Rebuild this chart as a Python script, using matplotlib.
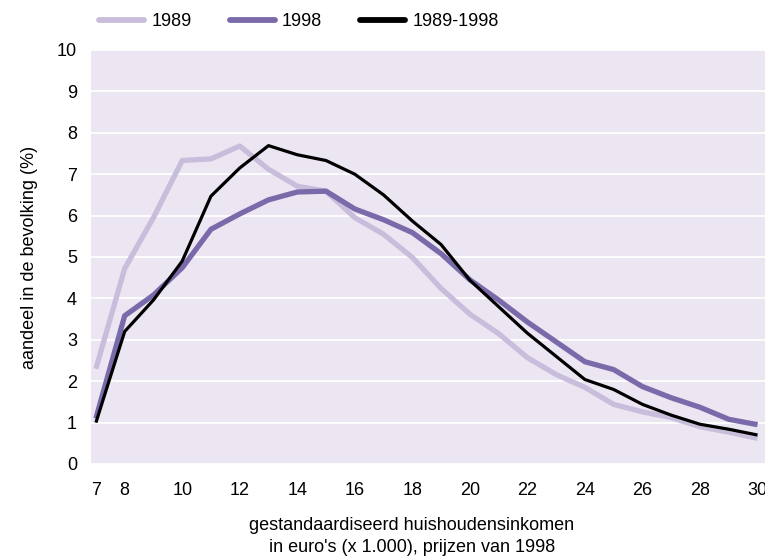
import matplotlib
matplotlib.use("Agg")
import matplotlib.pyplot as plt
from matplotlib import font_manager

inkomen = list(range(7, 31))
pct1989 = [2.3, 4.72, 5.95, 7.33, 7.37, 7.68, 7.12, 6.71, 6.59, 5.95, 5.55, 4.99, 4.24, 3.62, 3.15, 2.57, 2.16, 1.85, 1.44, 1.26, 1.12, 0.9, 0.77, 0.62]
pct1998 = [1.1, 3.58, 4.08, 4.74, 5.67, 6.04, 6.38, 6.57, 6.59, 6.16, 5.9, 5.59, 5.08, 4.45, 3.96, 3.43, 2.95, 2.47, 2.28, 1.87, 1.6, 1.37, 1.08, 0.95]
pct8998 = [1.0, 3.2, 3.96, 4.9, 6.47, 7.15, 7.69, 7.47, 7.33, 7.0, 6.5, 5.87, 5.3, 4.44, 3.8, 3.16, 2.6, 2.04, 1.8, 1.44, 1.18, 0.96, 0.84, 0.7]
xticks = [7, 8, 10, 12, 14, 16, 18, 20, 22, 24, 26, 28, 30]

names = [f.name for f in font_manager.fontManager.ttflist]
fam = "Liberation Sans Narrow" if "Liberation Sans Narrow" in names else "Liberation Sans"
plt.rcParams["font.family"] = fam
fs = 13

fig = plt.figure(figsize=(7.65, 5.58), dpi=100)
ax = fig.add_axes([91/765, 1-464/558, 1-91/765, (464-50)/558])
ax.set_facecolor("#ECE6F2")
for s in ax.spines.values():
    s.set_visible(False)

ax.plot(inkomen, pct1989, color="#C8BEDC", lw=3.8, label="1989", solid_capstyle="butt")
ax.plot(inkomen, pct1998, color="#7A6AAA", lw=3.8, label="1998", solid_capstyle="butt")
ax.plot(inkomen, pct8998, color="black", lw=2.3, label="1989-1998", solid_capstyle="butt")

ax.set_xlim(6.83, 30.26)
ax.set_ylim(0, 10)
ax.set_yticks(range(0, 11))
ax.set_xticks(xticks)
ax.grid(axis="y", color="white", lw=1.3)
ax.set_axisbelow(True)
ax.tick_params(length=0, labelsize=fs)
ax.tick_params(axis="y", pad=10)
ax.tick_params(axis="x", pad=13)

ax.set_ylabel("aandeel in de bevolking (%)", fontsize=fs, labelpad=14)
fig.text(412/765, 1-525/558, "gestandaardiseerd huishoudensinkomen", ha="center", va="center", fontsize=fs)
fig.text(412/765, 1-548/558, "in euro's (x 1.000), prijzen van 1998", ha="center", va="center", fontsize=fs)

leg = fig.legend(loc="center left", bbox_to_anchor=(92/765, 1-22/558), ncol=3, frameon=False,
                 fontsize=fs, handlelength=2.5, handletextpad=0.4, columnspacing=2.1, borderaxespad=0)
for h in leg.legend_handles:
    h.set_linewidth(4.2)
    h.set_solid_capstyle("round")

fig.savefig("out.png", dpi=100)
